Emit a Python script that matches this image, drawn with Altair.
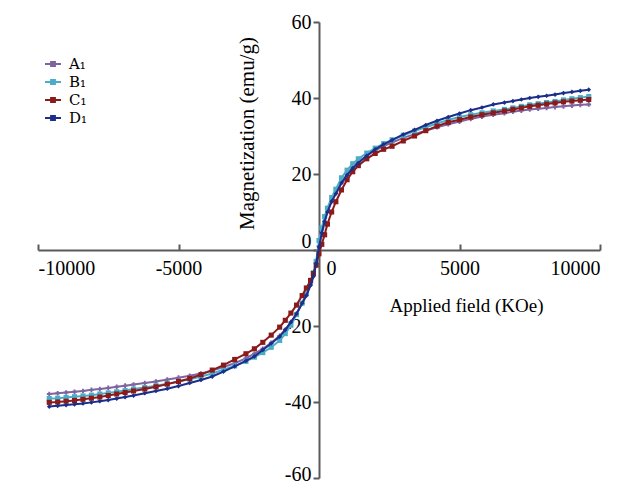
import altair as alt
import pandas as pd

field = [-9600, -9300, -9000, -8700, -8400, -8100, -7800, -7500, -7200, -6900, -6600,
         -6200, -5800, -5400, -5000, -4600, -4200, -3800, -3400, -3000, -2600, -2300,
         -2000, -1700, -1400, -1200, -1000, -800, -600, -450, -300, -200, -100, 0,
         100, 200, 300, 450, 600, 800, 1000, 1200, 1400, 1700, 2000, 2300, 2600, 3000,
         3400, 3800, 4200, 4600, 5000, 5400, 5800, 6200, 6600, 6900, 7200, 7500, 7800,
         8100, 8400, 8700, 9000, 9300, 9600]

a1 = [-37.9, -37.7, -37.5, -37.3, -37.1, -36.8, -36.6, -36.3, -36.0, -35.7, -35.4,
      -35.0, -34.6, -34.1, -33.6, -33.1, -32.5, -31.7, -30.8, -29.8, -28.5, -27.3,
      -26.0, -24.4, -22.6, -21.0, -19.0, -16.8, -14.0, -11.8, -9.0, -6.5, -3.3, 1.0,
      4.5, 7.5, 10.0, 12.8, 15.0, 17.8, 20.0, 21.8, 23.2, 24.8, 26.2, 27.3, 28.3, 29.5,
      30.5, 31.4, 32.3, 33.1, 33.8, 34.5, 35.1, 35.6, 36.0, 36.4, 36.7, 37.0, 37.2,
      37.4, 37.6, 37.8, 38.0, 38.2, 38.3]

b1 = [-39.1, -39.0, -38.8, -38.6, -38.4, -38.2, -37.9, -37.6, -37.3, -37.0, -36.6,
      -36.2, -35.7, -35.2, -34.6, -34.0, -33.3, -32.5, -31.5, -30.5, -29.3, -28.2,
      -27.0, -25.6, -23.8, -22.0, -19.8, -17.0, -14.0, -11.5, -8.5, -6.0, -3.0, 2.5,
      5.8, 8.8, 11.0, 13.8, 16.0, 19.0, 21.0, 22.7, 24.0, 25.5, 26.8, 28.0, 29.0, 30.2,
      31.3, 32.3, 33.3, 34.2, 35.0, 35.6, 36.1, 36.6, 37.0, 37.4, 37.8, 38.2, 38.5,
      38.8, 39.1, 39.5, 39.8, 40.1, 40.4]

c1 = [-40.1, -40.0, -39.8, -39.6, -39.3, -39.0, -38.7, -38.3, -37.9, -37.5, -37.1,
      -36.6, -36.0, -35.3, -34.6, -33.8, -32.8, -31.6, -30.3, -28.8, -27.3, -26.0,
      -24.3, -22.4, -20.3, -18.5, -16.6, -14.5, -12.0, -10.0, -8.0, -6.2, -4.0, -1.0,
      1.5, 4.0, 6.8, 10.0, 12.7, 15.8, 18.5, 20.6, 22.2, 24.0, 25.4, 26.5, 27.3, 28.7,
      30.0, 31.4, 32.6, 33.6, 34.3, 35.0, 35.6, 36.1, 36.6, 37.0, 37.4, 37.8, 38.1,
      38.4, 38.7, 39.0, 39.2, 39.4, 39.6]

d1 = [-41.2, -41.0, -40.8, -40.6, -40.4, -40.1, -39.8, -39.5, -39.1, -38.7, -38.3,
      -37.7, -37.1, -36.5, -35.8, -35.0, -34.2, -33.3, -32.0, -30.6, -29.2, -28.0,
      -26.3, -24.6, -22.8, -21.0, -19.0, -16.8, -14.0, -12.0, -9.3, -7.0, -3.5, 0.8,
      4.5, 7.5, 10.0, 12.8, 14.8, 17.6, 19.7, 21.5, 22.9, 24.8, 26.5, 27.8, 28.9, 30.4,
      31.6, 32.9, 34.0, 35.0, 35.9, 36.8, 37.5, 38.3, 38.8, 39.2, 39.6, 40.0, 40.3,
      40.6, 40.9, 41.3, 41.6, 41.9, 42.2]

series_names = ["A\u2081", "B\u2081", "C\u2081", "D\u2081"]
series_values = [a1, b1, c1, d1]
colors = ["#8064A2", "#4BACC6", "#8B1A1A", "#1B2E8A"]
shapes = ["cross", "square", "square", "diamond"]
sizes = [22, 26, 26, 22]

x_ticks = [-10000, -5000, 0, 5000, 10000]
y_ticks = [-60, -40, -20, 0, 20, 40, 60]

rows = []
for name, vals in zip(series_names, series_values):
    for f, m in zip(field, vals):
        rows.append({"field": f, "M": m, "series": name})
df = pd.DataFrame(rows)

FONT = "Liberation Serif"
W, H = 562, 456
AXIS_GRAY = "#5a5a5a"

xscale = alt.Scale(domain=[-10000, 10000], nice=False, zero=False)
yscale = alt.Scale(domain=[-60, 60], nice=False)
cscale = alt.Scale(domain=series_names, range=colors)

x_tick_axis = alt.Axis(orient="top", offset=-H / 2, values=x_ticks, labels=False,
                       title=None, tickSize=6, tickWidth=2, tickColor=AXIS_GRAY,
                       domainColor=AXIS_GRAY, domainWidth=2, grid=False)
x_label_axis = alt.Axis(orient="bottom", offset=-H / 2, values=x_ticks, ticks=False,
                        domain=False, grid=False, labelPadding=8,
                        labelExpr="'' + datum.value",
                        labelOffset={"condition": {"test": "datum.value === 0", "value": 12}, "value": 0},
                        labelFont=FONT, labelFontSize=20, labelColor="#000",
                        title="Applied field (KOe)", titleFont=FONT, titleFontSize=19,
                        titleFontWeight="normal", titleColor="#000",
                        titleX=428, titleY=55, titleBaseline="middle", titleAlign="center")
y_axis = alt.Axis(orient="left", offset=-(W / 2), values=y_ticks, grid=False,
                  tickSize=6, tickWidth=2, tickColor=AXIS_GRAY, domainColor=AXIS_GRAY,
                  domainWidth=2, labelPadding=2, labelExpr="'' + datum.value",
                  labelOffset={"condition": [{"test": "datum.value === 0", "value": -9},
                                             {"test": "datum.value === -60", "value": -4}],
                               "value": 0},
                  labelFont=FONT, labelFontSize=20, labelColor="#000",
                  title="Magnetization (emu/g)", titleFont=FONT, titleFontSize=21,
                  titleFontWeight="normal", titleColor="#000", titleAngle=270,
                  titleX=-72, titleY=111, titleBaseline="middle", titleAlign="center")

legend = alt.Legend(title=None, orient="none", legendX=6, legendY=33, padding=0,
                    symbolType="M-1,0H1M-0.24,-0.24H0.24V0.24H-0.24Z",
                    symbolSize=256, symbolStrokeWidth=2, rowPadding=1,
                    labelFont="DejaVu Serif", labelFontSize=15, labelColor="#000",
                    labelOffset=7)

X = alt.X("field:Q", scale=xscale, axis=x_tick_axis)
Y = alt.Y("M:Q", scale=yscale, axis=y_axis)

layers_list = []
for i, name in enumerate(series_names):
    sub = alt.Chart(df).transform_filter(alt.datum.series == name)
    line = sub.mark_line(strokeWidth=2).encode(
        x=X, y=Y,
        color=alt.Color("series:N", scale=cscale, legend=legend),
    )
    pts = sub.mark_point(filled=True, shape=shapes[i], size=sizes[i], opacity=1).encode(
        x=X, y=Y,
        color=alt.Color("series:N", scale=cscale, legend=legend),
    )
    layers_list += [line, pts]

series_layer = alt.layer(*layers_list)

label_layer = alt.Chart(df).mark_point(opacity=0).encode(
    x=alt.X("field:Q", scale=xscale, axis=x_label_axis),
    y=Y,
)

chart = alt.layer(series_layer, label_layer).resolve_axis(x="independent").properties(
    width=W, height=H,
    autosize=alt.AutoSizeParams(type="none"),
    padding={"left": 30, "top": 14, "right": 17, "bottom": 14},
).configure_view(stroke=None)

chart.save("out.html", embed_options={"renderer": "svg", "actions": False})
